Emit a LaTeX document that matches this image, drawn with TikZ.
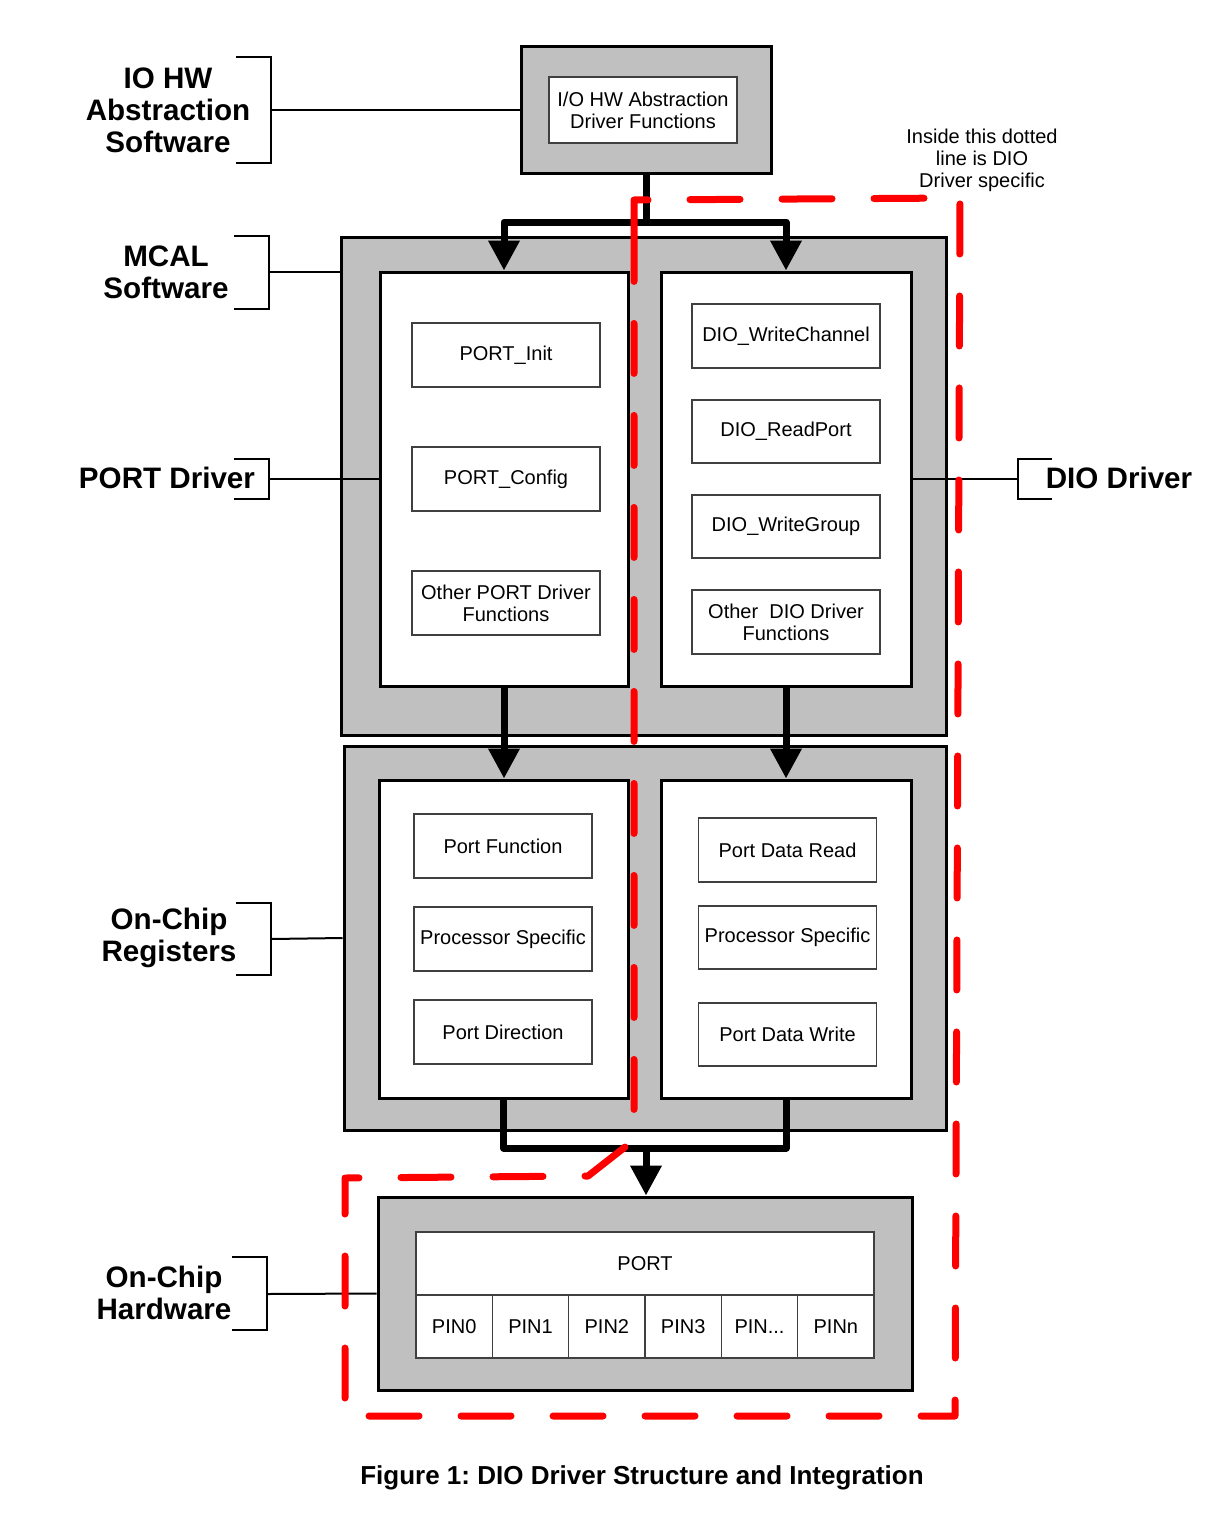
\documentclass[tikz,border=0pt]{standalone}
\usepackage{fontspec}
\setmainfont{Liberation Sans}
\usetikzlibrary{arrows.meta,fit}
\definecolor{boxgray}{HTML}{C0C0C0}
\definecolor{dashred}{HTML}{FF0000}
\frenchspacing
\tikzset{
  graybox/.style={draw, line width=1.5pt, fill=boxgray, inner sep=0pt},
  whitebox/.style={draw, line width=1.5pt, fill=white, inner sep=0pt},
  funcbox/.style={draw=black!75, line width=0.6pt, fill=white, inner sep=0pt, align=center,
     minimum width=94pt, minimum height=32pt, font=\fontsize{10}{11}\selectfont},
  regbox/.style={funcbox, minimum width=89pt},
  pinbox/.style={funcbox, minimum width=38.17pt, minimum height=31.5pt},
  layerlbl/.style={align=center, font=\bfseries\fontsize{14.8}{16}\selectfont},
  bracketline/.style={line width=1.3pt},
  connline/.style={line width=1pt},
  flowline/.style={line width=3.5pt, line join=round},
  flowarrow/.style={line width=3.5pt, line join=round, -{Triangle[width=15pt,length=15pt]}},
  reddash/.style={draw=dashred, line width=3.5pt, line cap=round, line join=round, dash pattern=on 25pt off 21pt},
}
\begin{document}
\begin{tikzpicture}[x=0.5pt,y=-0.5pt]
\useasboundingbox (0,0) rectangle (1225,1525);

% ---------- IO HW abstraction ----------
\node[graybox, fit={(521,47) (771,173)}] (io) {};
\node[funcbox, minimum height=33pt] (iof) at (643,110) {I/O HW Abstraction\\Driver Functions};

% ---------- MCAL ----------
\node[graybox, fit={(341,237) (946,735)}] (mcal) {};
\node[whitebox, fit={(380,272) (628,686)}] (portdrv) {};
\node[whitebox, fit={(661,272) (911,686)}] (diodrv) {};
\node[funcbox] (pinit) at (506,355) {PORT\_Init};
\node[funcbox] (pcfg) at (506,479) {PORT\_Config};
\node[funcbox] (pother) at (506,603) {Other PORT Driver\\Functions};
\node[funcbox] (dwc) at (786,336) {DIO\_WriteChannel};
\node[funcbox, minimum height=31.5pt] (drp) at (786,431.5) {DIO\_ReadPort};
\node[funcbox, minimum height=31.5pt] (dwg) at (786,526.5) {DIO\_WriteGroup};
\node[funcbox] (dother) at (786,622) {Other\ \ DIO Driver\\Functions};

% ---------- Registers ----------
\node[graybox, fit={(344,746) (946,1130)}] (regs) {};
\node[whitebox, fit={(379,780) (628,1098)}] (portreg) {};
\node[whitebox, fit={(661,780) (911,1098)}] (dioreg) {};
\node[regbox] (pfun) at (503,846) {Port Function};
\node[regbox] (pps) at (503,939) {Processor Specific};
\node[regbox] (pdir) at (503,1032) {Port Direction};
\node[regbox] (pdr) at (787.5,850) {Port Data Read};
\node[regbox, minimum height=31.5pt] (dps) at (787.5,937.5) {Processor Specific};
\node[regbox, minimum height=31.5pt] (pdw) at (787.5,1034.5) {Port Data Write};

% ---------- Hardware ----------
\node[graybox, fit={(378,1197) (912,1390)}] (hw) {};
\node[funcbox, minimum width=229pt, minimum height=31.5pt] (port) at (645,1263.5) {PORT};
\node[pinbox] (pin0) at (454.15,1326.5) {PIN0};
\node[pinbox] (pin1) at (530.5,1326.5) {PIN1};
\node[pinbox] (pin2) at (606.85,1326.5) {PIN2};
\node[pinbox] (pin3) at (683.15,1326.5) {PIN3};
\node[pinbox] (pinx) at (759.5,1326.5) {PIN...};
\node[pinbox] (pinn) at (835.85,1326.5) {PINn};

% ---------- Layer labels and brackets ----------
\node[layerlbl] (l1) at (168,110) {IO HW\\Abstraction\\Software};
\node[layerlbl] (l2) at (166,272) {MCAL\\Software};
\node[layerlbl] (l3) at (167,478) {PORT Driver};
\node[layerlbl] (l4) at (169,938) {On-Chip\\Registers};
\node[layerlbl] (l5) at (164,1293) {On-Chip\\Hardware};
\node[layerlbl] (l6) at (1119,478) {DIO Driver};

\draw[bracketline] (236,57) -- (271,57) -- (271,163) -- (236,163);
\coordinate (b1) at (271,110);
\draw[connline] (b1) -- (io.west);

\draw[bracketline] (234,236) -- (269,236) -- (269,309) -- (234,309);
\coordinate (b2) at (269,272);
\draw[connline] (b2) -- (b2 -| mcal.west);

\draw[bracketline] (234,459) -- (269,459) -- (269,499) -- (234,499);
\coordinate (b3) at (269,479);
\draw[connline] (b3) -- (portdrv.west);

\draw[bracketline] (236,903) -- (271,903) -- (271,975) -- (236,975);
\coordinate (b4) at (271,939);
\draw[connline] (b4) -- (regs.west);

\draw[bracketline] (232,1257) -- (267,1257) -- (267,1330) -- (232,1330);
\coordinate (b5) at (267,1294);
\draw[connline] (b5) -- (hw.west);

\draw[bracketline] (1052,459) -- (1018,459) -- (1018,499) -- (1052,499);
\coordinate (b6) at (1018,479);
\draw[connline] (b6) -- (diodrv.east);

% ---------- Flow arrows ----------
\coordinate (j1) at (646,222);
\draw[flowline] (io.south) -- (j1);
\draw[flowarrow] (j1) -| (portdrv.north);
\draw[flowarrow] (j1) -| (diodrv.north);
\draw[flowarrow] (portdrv.south) -- (portdrv.south |- portreg.north);
\draw[flowarrow] (diodrv.south) -- (diodrv.south |- dioreg.north);
\coordinate (j2) at (646,1148);
\draw[flowline] (portreg.south) |- (j2);
\draw[flowline] (dioreg.south) |- (j2);
\draw[flowarrow] (j2) -- (j2 |- hw.north);

% ---------- DIO-specific region ----------
\draw[reddash] (634,236) -- (634,200) -- (960,198) -- (955,1416) -- (345,1416)
   -- (345,1178) -- (588,1176) -- (634,1140) -- cycle;
\node[align=center, font=\fontsize{10}{11}\selectfont] (note) at (982,160) {Inside this dotted\\line is DIO\\Driver specific};

% ---------- Caption ----------
\node[font=\bfseries\fontsize{13}{15}\selectfont] (cap) at (642,1478) {Figure 1: DIO Driver Structure and Integration};
\end{tikzpicture}
\end{document}
